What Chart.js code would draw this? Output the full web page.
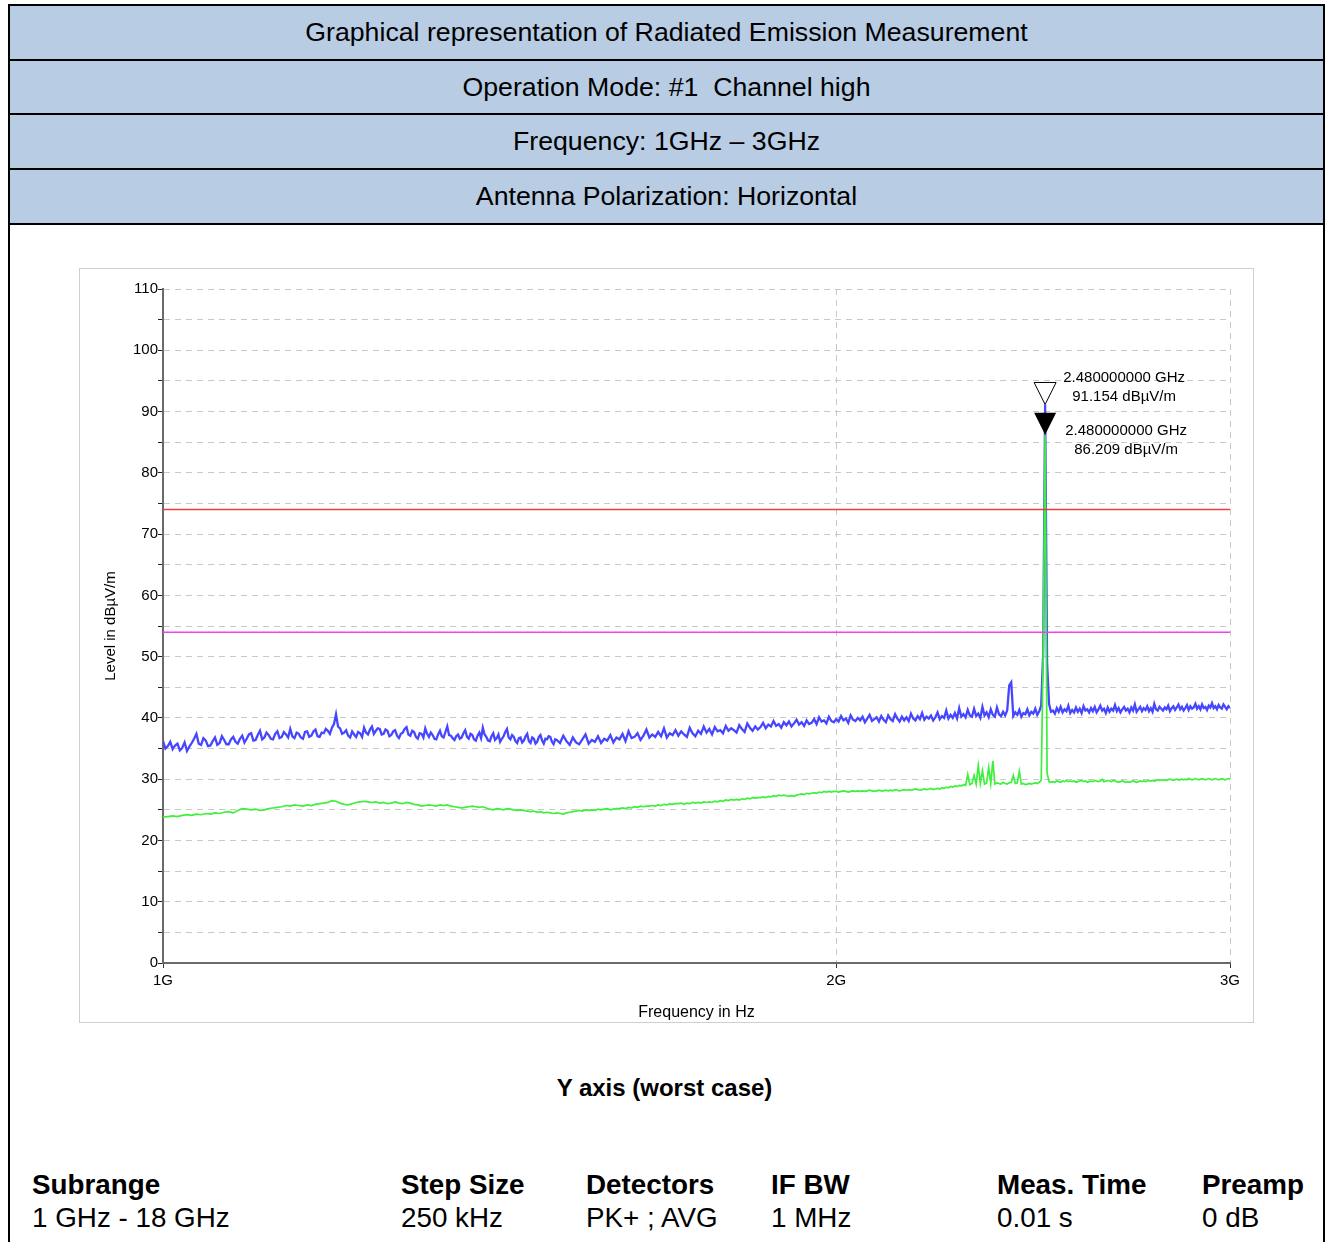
<!DOCTYPE html>
<html>
<head>
<meta charset="utf-8">
<script src="https://cdn.jsdelivr.net/npm/chart.js@4.4.1/dist/chart.umd.min.js"></script>
<style>
  body { margin: 0; background: #fff; font-family: "Liberation Sans", Arial, sans-serif; }
  #page { position: relative; width: 1329px; height: 1242px; overflow: hidden; }
  .hdr { position: absolute; left: 8px; width: 1317px; background: #b8cce4; border: 2px solid #000;
         box-sizing: border-box; display: flex; align-items: center; justify-content: center;
         font-size: 26.7px; color: #000; }
  .side { position: absolute; top: 224px; width: 2px; height: 1020px; background: #000; }
  #panel { position: absolute; left: 79px; top: 268px; width: 1175px; height: 755px;
           border: 1px solid #cfcfcf; box-sizing: border-box; }
  #chart { position: absolute; left: 79px; top: 268px; }
  #caption { position: absolute; left: 0; width: 1329px; top: 1074px; text-align: center;
             font-weight: bold; font-size: 24px; }
  .cell { position: absolute; font-size: 27.8px; white-space: nowrap; line-height: 32px; }
  .b { font-weight: bold; top: 1169px; }
  .n { top: 1202px; }
</style>
</head>
<body>
<div id="page">
  <div class="hdr" style="top:4px;height:57px">Graphical representation of Radiated Emission Measurement</div>
  <div class="hdr" style="top:59px;height:56px">Operation Mode: #1&nbsp; Channel high</div>
  <div class="hdr" style="top:113px;height:57px">Frequency: 1GHz – 3GHz</div>
  <div class="hdr" style="top:168px;height:57px">Antenna Polarization: Horizontal</div>
  <div class="side" style="left:8px"></div>
  <div class="side" style="left:1323px"></div>
  <div id="panel"></div>
  <canvas id="chart" width="1174" height="754"></canvas>
  <div id="caption">Y axis (worst case)</div>
  <div id="settings"></div>
</div>
<script>
// PK+ trace, part 1 (dBµV/m): 1000 - 1497.5 MHz, every 2.5 MHz
const peakLowStart = 1000;
const peakLowStep = 2.5;
const peakLevelLow = [
  36.2, 35.0, 35.4, 36.1, 34.9, 35.5, 35.8, 34.7, 35.1, 36.0, 34.6, 35.3, 35.9, 36.6, 37.4, 35.8, 35.6, 36.7, 36.3, 35.4,
  35.5, 36.2, 36.8, 35.6, 35.9, 37.0, 36.4, 35.7, 35.7, 36.5, 36.9, 36.1, 35.8, 36.6, 37.1, 36.0, 36.6, 37.3, 37.5, 36.3,
  36.4, 37.2, 37.9, 36.5, 36.8, 37.6, 37.2, 36.6, 36.5, 37.4, 37.8, 36.7, 36.9, 37.7, 37.3, 36.8, 38.2, 37.0, 36.7, 37.6,
  37.4, 36.8, 36.6, 37.7, 37.8, 36.9, 37.1, 37.8, 38.1, 37.0, 36.9, 37.6, 37.5, 38.2, 37.9, 37.4, 38.4, 39.0, 40.6, 38.6,
  38.3, 37.4, 37.6, 38.0, 37.1, 36.8, 37.8, 37.3, 36.9, 37.7, 37.5, 36.9, 38.4, 37.6, 37.3, 38.1, 38.6, 37.4, 37.9, 38.3,
  38.2, 37.3, 37.4, 38.1, 37.9, 37.0, 37.2, 37.8, 38.0, 37.1, 36.7, 37.4, 37.6, 38.2, 38.5, 37.3, 37.1, 37.9, 37.7, 36.9,
  36.6, 37.5, 37.4, 36.8, 38.3, 37.4, 36.9, 37.6, 37.2, 36.6, 36.5, 37.3, 37.9, 37.0, 36.8, 37.7, 38.6, 37.2, 37.1, 36.7,
  36.4, 37.0, 37.3, 36.6, 36.8, 37.5, 38.0, 36.9, 36.6, 37.4, 37.2, 36.5, 36.3, 37.1, 37.6, 36.7, 38.4, 37.3, 36.9, 36.3,
  36.2, 37.0, 37.5, 36.4, 36.7, 37.3, 36.1, 36.6, 37.0, 37.7, 38.2, 36.8, 36.5, 37.2, 36.9, 36.2, 35.9, 36.7, 36.8, 36.0,
  36.3, 37.0, 37.4, 36.2, 35.9, 36.8, 36.6, 35.8, 36.1, 36.9, 37.2, 36.3, 35.8, 36.6, 36.5, 37.0, 36.9, 36.1, 35.7, 36.5
];

// PK+ trace, part 2 (dBµV/m): 1500 - 3000 MHz, every 5 MHz
const peakHighStart = 1500;
const peakHighStep = 5;
const peakLevelHigh = [
  36.4, 35.9, 37.1, 36.2, 35.6, 36.8, 36.0, 35.7, 36.5, 37.3,
  35.8, 36.4, 36.1, 37.0, 35.9, 36.6, 36.3, 37.2, 36.0, 36.8,
  36.5, 37.4, 36.2, 37.8, 36.7, 36.9, 37.5, 36.4, 37.1, 38.1,
  36.8, 37.3, 36.9, 37.7, 37.0, 38.3, 36.8, 37.5, 37.2, 38.0,
  37.1, 37.8, 37.3, 36.9, 38.4, 37.5, 37.0, 37.9, 37.4, 38.6,
  37.6, 38.2, 37.3, 38.5, 37.8, 38.0, 37.5, 38.7, 37.9, 38.3,
  38.0, 37.6, 38.8, 38.2, 37.7, 39.1, 38.4, 37.9, 38.6, 38.1,
  38.5, 39.2, 38.3, 38.9, 38.6, 39.5, 38.7, 39.0, 38.4, 39.3,
  38.8, 39.4, 38.6, 39.1, 39.7, 38.9, 39.3, 38.7, 39.6, 39.0,
  39.2, 39.8, 39.0, 40.1, 39.4, 39.6, 39.1, 40.2, 39.5, 39.3,
  39.8, 39.4, 40.3, 39.6, 39.9, 39.2, 40.4, 39.7, 39.5, 40.0,
  39.6, 40.2, 39.3, 39.9, 40.5, 39.5, 39.8, 40.1, 39.4, 40.3,
  39.7, 39.3, 40.4, 39.8, 39.5, 40.6, 39.9, 39.4, 40.2, 39.6,
  40.1, 39.5, 40.7, 39.9, 39.6, 40.3, 39.8, 40.8, 39.7, 40.2,
  39.9, 40.4, 39.6, 40.1, 40.9, 39.8, 40.3, 40.0, 41.2, 39.9,
  40.5, 40.0, 40.8, 39.9, 41.6, 40.2, 40.6, 40.1, 41.3, 40.4,
  40.2, 41.5, 40.3, 40.7, 40.0, 41.8, 40.4, 40.9, 40.1, 41.4,
  40.5, 40.2, 41.7, 40.6, 40.3, 41.0, 40.4, 41.2, 45.3, 45.8,
  40.3, 40.9, 40.5, 41.3, 40.2, 40.8, 40.6, 41.4, 40.4, 41.0,
  40.7, 41.5, 40.5, 41.1, 42.0, 50.5, 91.154, 49.0, 42.3, 41.0,
  41.2, 40.7, 41.6, 41.0, 41.8, 40.9, 41.4, 41.1, 42.0, 40.8,
  41.3, 40.9, 41.7, 41.0, 41.5, 40.8, 41.9, 41.2, 41.4, 40.9,
  41.6, 41.1, 41.8, 40.9, 41.4, 42.0, 41.2, 41.5, 40.8, 41.7,
  41.0, 41.5, 41.2, 42.1, 41.1, 41.6, 40.9, 41.4, 41.8, 41.2,
  41.5, 40.9, 41.7, 41.2, 42.2, 41.0, 41.4, 41.8, 41.1, 41.6,
  41.3, 41.9, 41.1, 41.6, 41.0, 42.3, 41.4, 41.2, 41.8, 41.5,
  41.2, 41.7, 41.4, 42.0, 41.1, 41.6, 41.9, 41.3, 41.7, 42.2,
  41.4, 41.8, 41.2, 41.6, 42.1, 41.3, 41.9, 41.5, 41.7, 42.3,
  41.5, 41.9, 41.4, 42.2, 41.6, 41.8, 41.3, 42.0, 41.7, 42.4,
  41.6, 41.9, 41.4, 42.1, 41.7, 41.5, 42.2, 41.8, 41.4, 41.9,
  41.6
];

// AVG trace (dBµV/m): 1000 - 3000 MHz, every 5 MHz
const avgStart = 1000;
const avgStep = 5;
const avgLevel = [
  23.8, 23.9, 24.0, 23.9, 24.1, 24.2, 24.1, 24.3, 24.2, 24.4,
  24.3, 24.5, 24.4, 24.6, 24.7, 24.5, 24.9, 25.2, 25.1, 25.0,
  25.1, 24.9, 25.0, 25.2, 25.3, 25.4, 25.5, 25.7, 25.6, 25.8,
  25.7, 25.6, 25.8, 25.7, 25.9, 26.0, 26.1, 26.2, 26.5, 26.4,
  26.1, 25.9, 25.8, 26.0, 26.2, 26.3, 26.4, 26.3, 26.2, 26.3,
  26.1, 26.2, 26.0, 26.1, 26.3, 26.1, 26.0, 26.2, 26.1, 25.9,
  25.8, 25.6, 25.7, 25.8, 25.7, 25.6, 25.8, 25.7, 25.8, 25.6,
  25.5, 25.4, 25.3, 25.4, 25.5, 25.6, 25.5, 25.4, 25.5, 25.3,
  25.1, 25.0, 25.2, 25.1, 25.0, 25.2, 25.1, 25.0, 24.9, 25.0,
  24.9, 24.8, 24.7, 24.8, 24.6, 24.7, 24.5, 24.6, 24.5, 24.4,
  24.5, 24.4, 24.3, 24.5, 24.6, 24.7, 24.8, 24.9, 24.8, 25.0,
  24.9, 25.0, 24.9, 25.1, 25.0, 25.1, 25.2, 25.0, 25.1, 25.2,
  25.2, 25.3, 25.2, 25.4, 25.3, 25.5, 25.4, 25.6, 25.5, 25.6,
  25.6, 25.7, 25.6, 25.8, 25.7, 25.9, 25.8, 26.0, 25.9, 26.0,
  26.0, 26.1, 25.9, 26.1, 26.0, 26.2, 26.1, 26.2, 26.1, 26.3,
  26.2, 26.3, 26.2, 26.4, 26.3, 26.5, 26.4, 26.6, 26.5, 26.7,
  26.6, 26.7, 26.6, 26.8, 26.7, 26.9, 26.8, 27.0, 26.9, 27.0,
  27.0, 27.1, 27.0, 27.2, 27.1, 27.3, 27.2, 27.4, 27.3, 27.4,
  27.3, 27.2, 27.3, 27.2, 27.4, 27.5, 27.6, 27.5, 27.7, 27.6,
  27.7, 27.8, 27.7, 27.9, 27.8, 28.0, 27.9, 28.0, 27.9, 28.0,
  28.0, 27.9, 28.0, 28.1, 28.0, 27.9, 28.0, 28.1, 28.0, 28.1,
  28.0, 28.1, 28.0, 28.1, 28.2, 28.1, 28.0, 28.1, 28.2, 28.1,
  28.1, 28.2, 28.1, 28.2, 28.1, 28.3, 28.2, 28.1, 28.2, 28.3,
  28.2, 28.3, 28.2, 28.3, 28.4, 28.3, 28.2, 28.3, 28.4, 28.3,
  28.4, 28.5, 28.3, 28.4, 28.5, 28.4, 28.6, 28.5, 28.7, 28.6,
  28.8, 28.7, 28.9, 28.8, 29.0, 28.9, 29.1, 29.0, 30.8, 29.1,
  29.3, 30.6, 29.2, 32.2, 29.3, 31.4, 29.2, 29.4, 31.9, 29.3,
  33.0, 29.2, 29.4, 29.3, 29.2, 29.5, 29.3, 29.2, 29.4, 29.5,
  30.6, 29.3, 29.4, 31.3, 29.2, 29.3, 29.1, 29.2, 29.3, 29.2,
  29.3, 29.4, 29.3, 29.5, 29.8, 50.0, 86.209, 31.0, 29.6, 29.5,
  29.6, 29.5, 29.7, 29.6, 29.5, 29.7, 29.6, 29.8, 29.6, 29.7,
  29.6, 29.7, 29.5, 29.6, 29.7, 29.8, 29.6, 29.7, 29.5, 29.6,
  29.7, 29.6, 29.8, 29.7, 29.6, 29.7, 30.0, 29.6, 29.7, 29.8,
  29.7, 29.6, 29.8, 29.7, 29.6, 29.5, 29.6, 29.7, 29.6, 29.5,
  29.6, 29.5, 29.6, 29.7, 29.6, 29.5, 29.6, 29.7, 29.6, 29.7,
  29.6, 29.7, 29.8, 29.7, 29.8, 29.7, 29.8, 29.9, 29.8, 29.9,
  29.8, 29.9, 29.8, 29.9, 30.0, 29.9, 29.8, 29.9, 30.0, 29.9,
  29.9, 30.0, 29.9, 30.0, 29.9, 30.1, 30.0, 29.9, 30.0, 30.1,
  30.0, 29.9, 30.0, 30.1, 30.0, 29.9, 30.0, 30.1, 30.0, 29.9,
  30.0, 30.1, 30.0, 29.9, 30.0, 30.1, 30.0, 29.9, 30.0, 30.1,
  30.0
];

// limit lines
const limitFreq = [1000, 3000];
const peakLimit = [74, 74];
const avgLimit = [54, 54];

// markers
const markerFreq = [2480, 2480];
const markerLevel = [91.154, 86.209];
const markerFilled = [false, true];

// axis ticks
const xTicks = [1000, 2000, 3000];
const xTickLabels = ["1G", "2G", "3G"];

// settings table
const settingHeads = ["Subrange", "Step Size", "Detectors", "IF BW", "Meas. Time", "Preamp"];
const settingValues = ["1 GHz - 18 GHz", "250 kHz", "PK+ ; AVG", "1 MHz", "0.01 s", "0 dB"];

//TODO: build settings table
const colX = [32, 401, 586, 771, 997, 1202];
let settings = document.getElementById("settings");
settingHeads.forEach((h, i) => {
  let b = document.createElement("div");
  b.className = "cell b";
  b.style.left = colX[i] + "px";
  b.innerText = h;
  settings.appendChild(b);
  let n = document.createElement("div");
  n.className = "cell n";
  n.style.left = colX[i] + "px";
  n.innerText = settingValues[i];
  settings.appendChild(n);
});

function toPoints(levels, start, step) {
  return levels.map((v, i) => ({ x: start + i * step, y: v }));
}
function limitPoints(levels) {
  return levels.map((v, i) => ({ x: limitFreq[i], y: v }));
}

let peakPoints = toPoints(peakLevelLow, peakLowStart, peakLowStep).concat(
  toPoints(peakLevelHigh, peakHighStart, peakHighStep)
);

//TODO: draw marker triangles and labels
const markerPlugin = {
  id: "markers",
  afterDatasetsDraw(chart) {
    const { ctx, scales } = chart;
    const labelDx = [79, 81];
    const labelDy = [-27, -4];
    markerFreq.forEach((f, i) => {
      let px = scales.x.getPixelForValue(f);
      let py = scales.y.getPixelForValue(markerLevel[i]);
      ctx.save();
      ctx.beginPath();
      ctx.moveTo(px, py);
      ctx.lineTo(px - 11, py - 22);
      ctx.lineTo(px + 11, py - 22);
      ctx.closePath();
      if (markerFilled[i]) {
        ctx.fillStyle = "#000";
        ctx.fill();
      } else {
        ctx.fillStyle = "#fff";
        ctx.fill();
        ctx.strokeStyle = "#000";
        ctx.lineWidth = 1;
        ctx.stroke();
      }
      ctx.fillStyle = "#000";
      ctx.font = '15px "Liberation Sans", Arial, sans-serif';
      ctx.textAlign = "center";
      ctx.textBaseline = "middle";
      let cx = px + labelDx[i];
      let cy = py + labelDy[i];
      ctx.fillText((f / 1000).toFixed(9) + " GHz", cx, cy);
      ctx.fillText(markerLevel[i].toFixed(3) + " dBµV/m", cx, cy + 19);
      ctx.restore();
    });
  },
};

Chart.defaults.font.family = '"Liberation Sans", Arial, sans-serif';
Chart.defaults.color = "#000";

let myChart = new Chart(document.getElementById("chart").getContext("2d"), {
  type: "line",
  data: {
    datasets: [
      { label: "PK+ Limit", data: limitPoints(peakLimit), borderColor: "#f03c3c", borderWidth: 1.5, order: 0 },
      { label: "AVG Limit", data: limitPoints(avgLimit), borderColor: "#f040f0", borderWidth: 1.5, order: 1 },
      { label: "AVG", data: toPoints(avgLevel, avgStart, avgStep), borderColor: "#3cf03c", borderWidth: 1.7, order: 2 },
      { label: "PK+", data: peakPoints, borderColor: "#4646ff", borderWidth: 2.3, order: 3 },
    ],
  },
  options: {
    responsive: false,
    animation: false,
    parsing: false,
    layout: { padding: { left: 0, right: 23, top: 21, bottom: 0 } },
    elements: { point: { radius: 0 }, line: { tension: 0 } },
    plugins: { legend: { display: false }, tooltip: { enabled: false } },
    scales: {
      x: {
        type: "logarithmic",
        min: 1000,
        max: 3000,
        afterBuildTicks: (s) => { s.ticks = xTicks.map((v) => ({ value: v })); },
        afterFit: (s) => { s.height = 59; },
        ticks: {
          autoSkip: false,
          maxRotation: 0,
          padding: 4,
          font: { size: 15 },
          callback: (v) => xTickLabels[xTicks.indexOf(v)],
        },
        grid: {
          color: (c) => (c.index === 0 ? "rgba(0,0,0,0)" : "#c8c8c8"),
          tickColor: "#333",
          tickLength: 5,
          lineWidth: 1,
        },
        border: { display: true, color: "#6a6a6a", width: 2, dash: [6, 5] },
        title: { display: true, text: "Frequency in Hz", font: { size: 16 }, padding: { top: 0, bottom: 0 } },
      },
      y: {
        min: 0,
        max: 110,
        afterFit: (s) => { s.width = 84; },
        ticks: {
          stepSize: 5,
          autoSkip: false,
          padding: 0,
          font: { size: 15 },
          callback: (v) => (v % 10 === 0 ? v : ""),
        },
        grid: { color: "#c8c8c8", tickColor: "#222", tickLength: 5, lineWidth: 1 },
        border: { display: true, color: "#6a6a6a", width: 2, dash: [6, 5] },
        title: { display: true, text: "Level in dBµV/m", font: { size: 15 }, padding: { top: 23, bottom: 0 } },
      },
    },
  },
  plugins: [markerPlugin],
});
</script>
</body>
</html>
